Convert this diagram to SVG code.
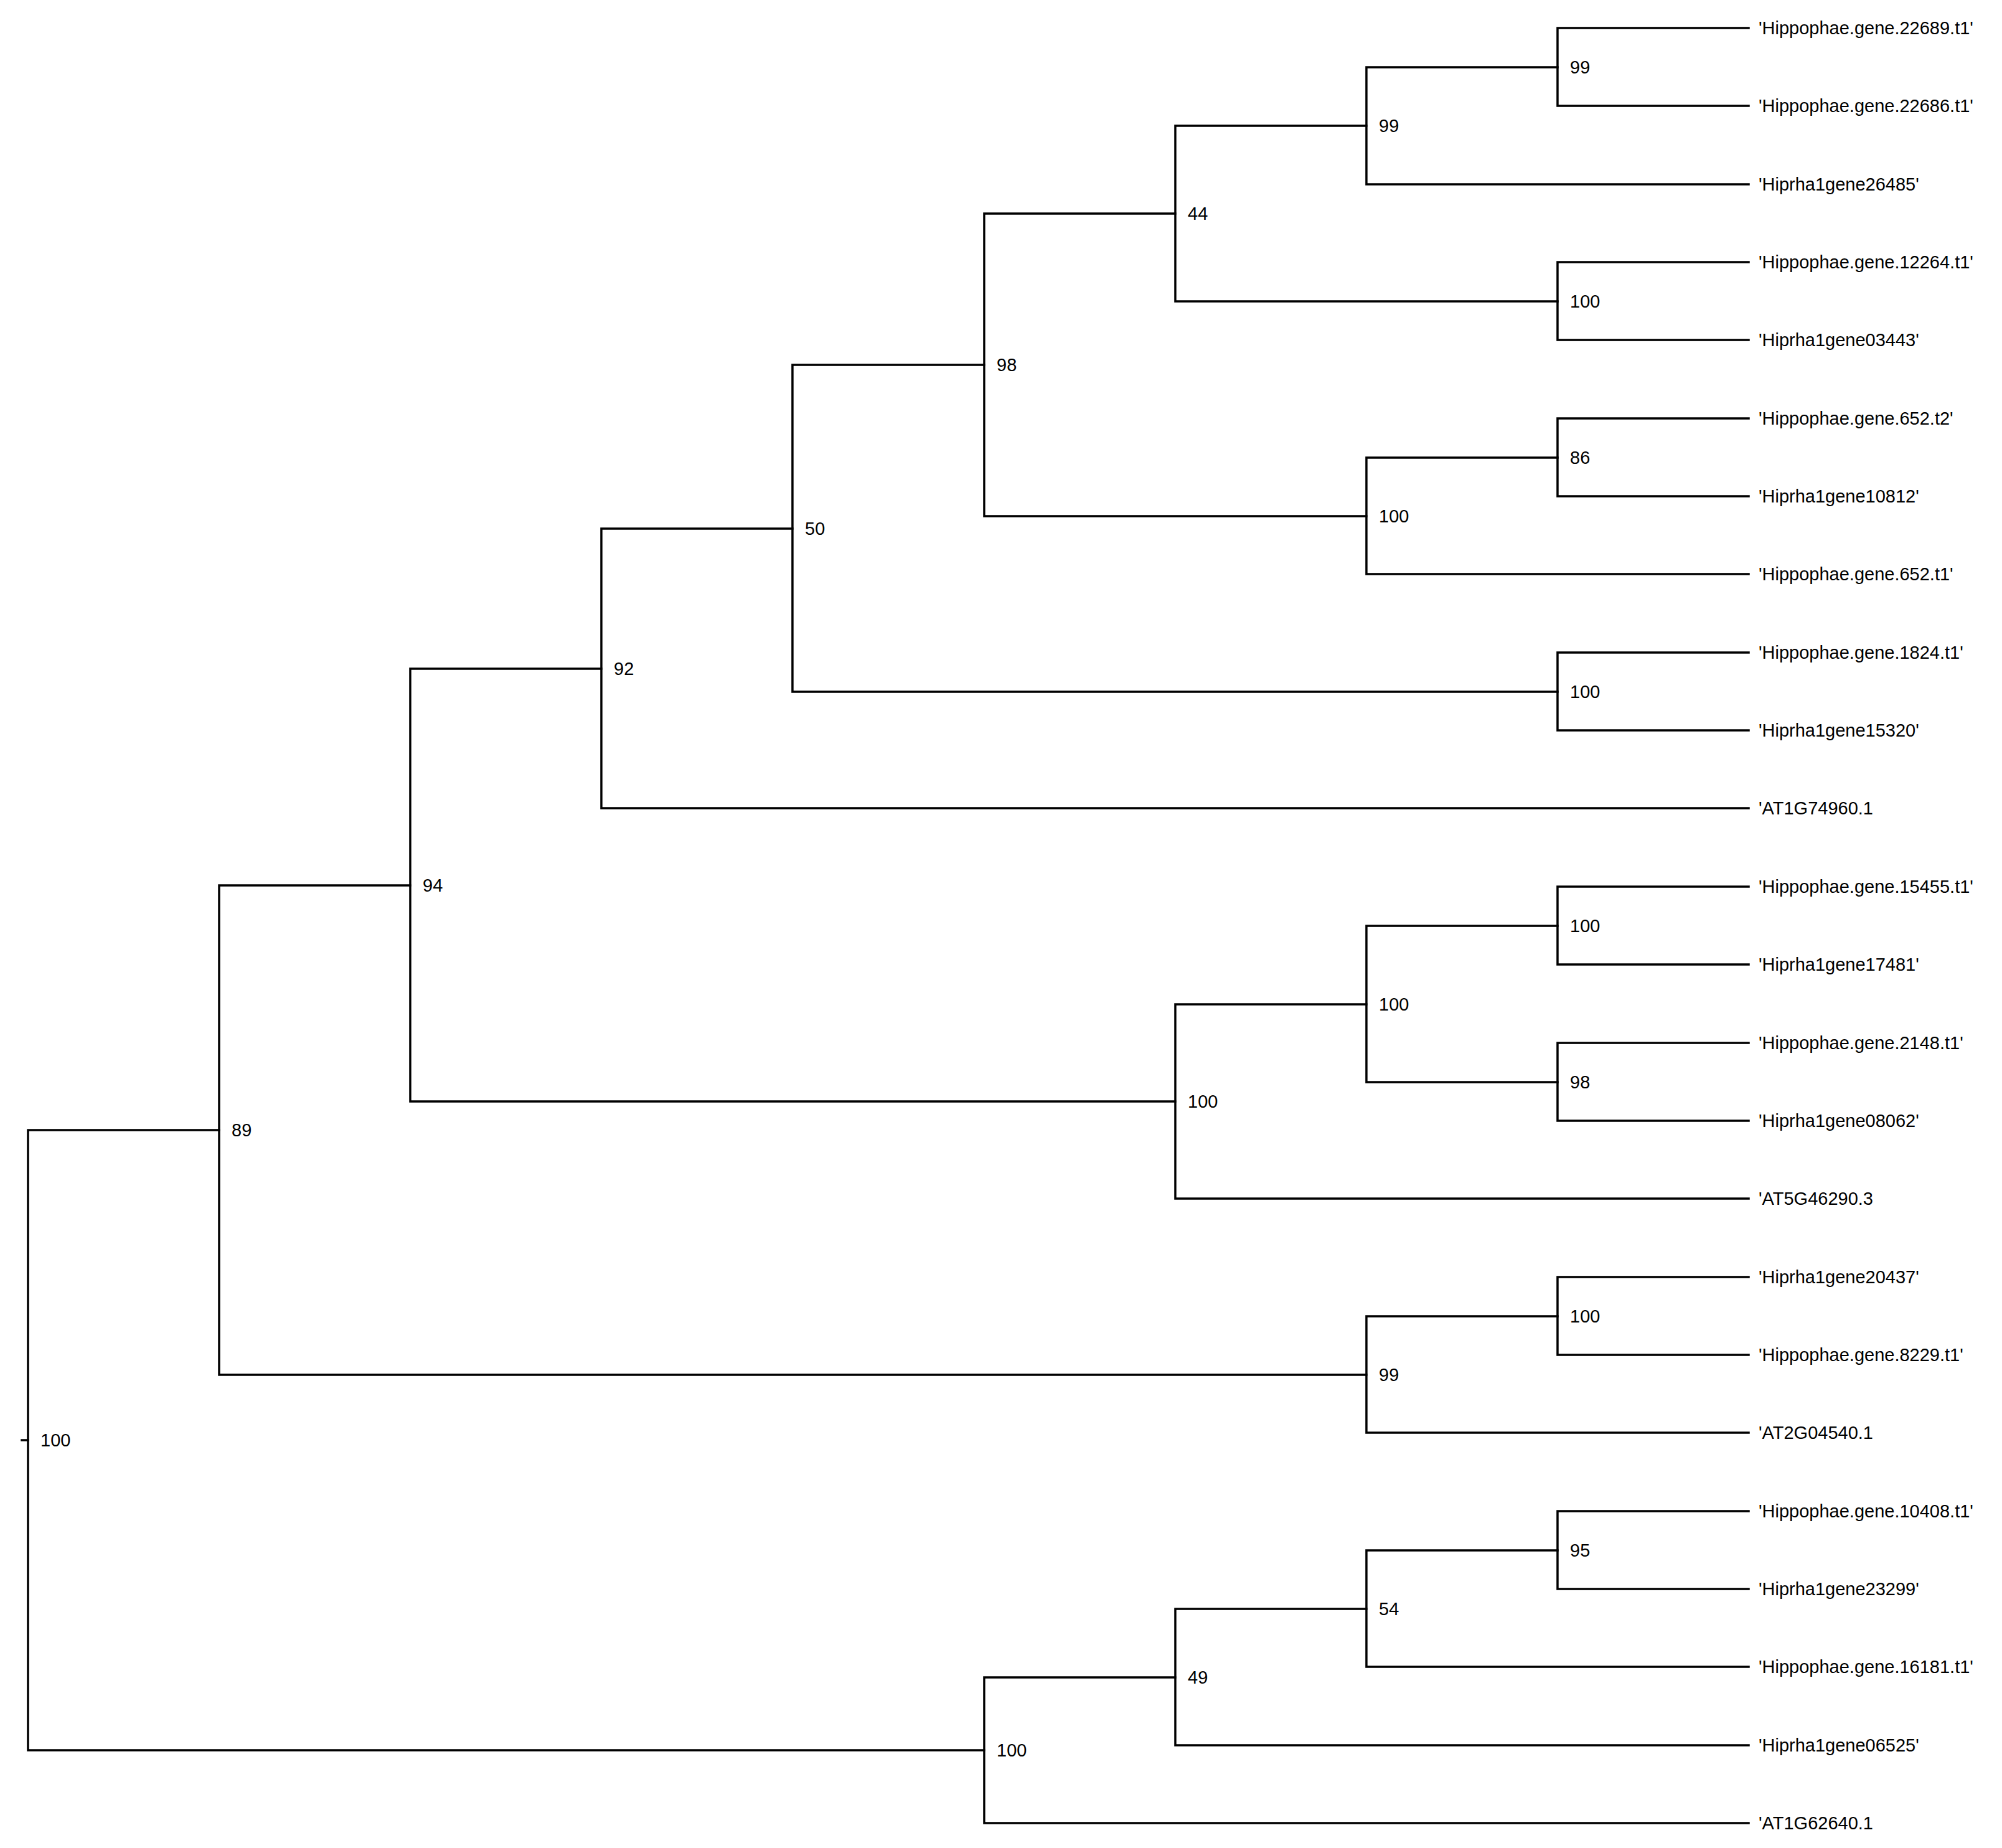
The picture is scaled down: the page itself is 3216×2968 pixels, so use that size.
<svg xmlns="http://www.w3.org/2000/svg" width="3216" height="2968" viewBox="0 0 3216 2968">
<style>
.e{fill:none;stroke:#000;stroke-width:3.5;stroke-linecap:square}
text{font-family:"Liberation Sans",Arial,sans-serif;font-size:29px;fill:#000;dominant-baseline:central}
</style>
<rect width="3216" height="2968" fill="#fff"/>
<g id="connectors" class="e">
<path d="M35 2313H45"/>
<path d="M352 1815H45V2811H1581"/>
<path d="M659 1422H352V2208H2195"/>
<path d="M966 1074H659V1769H1888"/>
<path d="M1273 849H966V1298H2809"/>
<path d="M1581 586H1273V1111H2502"/>
<path d="M1888 343H1581V829H2195"/>
<path d="M2195 202H1888V484H2502"/>
<path d="M2502 108H2195V296H2809"/>
<path d="M2809 45H2502V170H2809"/>
<path d="M2809 421H2502V546H2809"/>
<path d="M2502 735H2195V922H2809"/>
<path d="M2809 672H2502V797H2809"/>
<path d="M2809 1048H2502V1173H2809"/>
<path d="M2195 1613H1888V1925H2809"/>
<path d="M2502 1487H2195V1738H2502"/>
<path d="M2809 1424H2502V1549H2809"/>
<path d="M2809 1675H2502V1800H2809"/>
<path d="M2502 2114H2195V2301H2809"/>
<path d="M2809 2051H2502V2176H2809"/>
<path d="M1888 2694H1581V2928H2809"/>
<path d="M2195 2584H1888V2803H2809"/>
<path d="M2502 2490H2195V2677H2809"/>
<path d="M2809 2427H2502V2552H2809"/>
</g>
<g id="support">
<text x="65" y="2313">100</text>
<text x="372" y="1815">89</text>
<text x="679" y="1422">94</text>
<text x="986" y="1074">92</text>
<text x="1293" y="849">50</text>
<text x="1601" y="586">98</text>
<text x="1908" y="343">44</text>
<text x="2215" y="202">99</text>
<text x="2522" y="108">99</text>
<text x="2522" y="484">100</text>
<text x="2215" y="829">100</text>
<text x="2522" y="735">86</text>
<text x="2522" y="1111">100</text>
<text x="1908" y="1769">100</text>
<text x="2215" y="1613">100</text>
<text x="2522" y="1487">100</text>
<text x="2522" y="1738">98</text>
<text x="2215" y="2208">99</text>
<text x="2522" y="2114">100</text>
<text x="1601" y="2811">100</text>
<text x="1908" y="2694">49</text>
<text x="2215" y="2584">54</text>
<text x="2522" y="2490">95</text>
</g>
<g id="leaves">
<text x="2825" y="45">'Hippophae.gene.22689.t1'</text>
<text x="2825" y="170">'Hippophae.gene.22686.t1'</text>
<text x="2825" y="296">'Hiprha1gene26485'</text>
<text x="2825" y="421">'Hippophae.gene.12264.t1'</text>
<text x="2825" y="546">'Hiprha1gene03443'</text>
<text x="2825" y="672">'Hippophae.gene.652.t2'</text>
<text x="2825" y="797">'Hiprha1gene10812'</text>
<text x="2825" y="922">'Hippophae.gene.652.t1'</text>
<text x="2825" y="1048">'Hippophae.gene.1824.t1'</text>
<text x="2825" y="1173">'Hiprha1gene15320'</text>
<text x="2825" y="1298">'AT1G74960.1</text>
<text x="2825" y="1424">'Hippophae.gene.15455.t1'</text>
<text x="2825" y="1549">'Hiprha1gene17481'</text>
<text x="2825" y="1675">'Hippophae.gene.2148.t1'</text>
<text x="2825" y="1800">'Hiprha1gene08062'</text>
<text x="2825" y="1925">'AT5G46290.3</text>
<text x="2825" y="2051">'Hiprha1gene20437'</text>
<text x="2825" y="2176">'Hippophae.gene.8229.t1'</text>
<text x="2825" y="2301">'AT2G04540.1</text>
<text x="2825" y="2427">'Hippophae.gene.10408.t1'</text>
<text x="2825" y="2552">'Hiprha1gene23299'</text>
<text x="2825" y="2677">'Hippophae.gene.16181.t1'</text>
<text x="2825" y="2803">'Hiprha1gene06525'</text>
<text x="2825" y="2928">'AT1G62640.1</text>
</g>
</svg>
